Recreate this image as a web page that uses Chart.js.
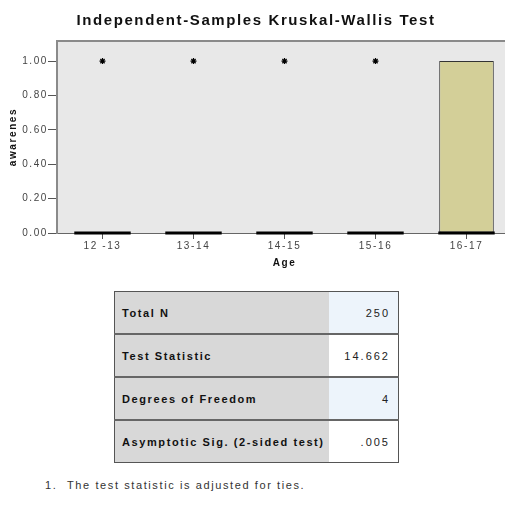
<!DOCTYPE html>
<html>
<head>
<meta charset="utf-8">
<script src="https://cdn.jsdelivr.net/npm/chart.js@4"></script>
<style>
  html, body { margin: 0; padding: 0; background: #fff; overflow: hidden; }
  body { width: 505px; height: 512px; position: relative; font-family: "Liberation Sans", Arial, sans-serif; }
  #myChart { position: absolute; left: 0; top: 0; }
  table.stats {
    position: absolute; left: 114px; top: 291px; width: 285px;
    border-collapse: collapse; border: 1px solid #555; font-size: 11px; letter-spacing: 1.6px; color: #111;
  }
  table.stats td { height: 41px; padding: 0; border-bottom: 2px solid #666; }
  table.stats tr:last-child td { border-bottom: none; }
  table.stats td.lab { width: 209px; padding-left: 7px; background: #d8d8d8; font-weight: bold; }
  table.stats td.val { width: 61px; padding-right: 8px; text-align: right; letter-spacing: 2px; color: #222; }
  table.stats tr:nth-child(odd) td.val { background: #edf4fb; }
  table.stats tr:nth-child(even) td.val { background: #fff; }
  .note { position: absolute; left: 45px; top: 479px; font-size: 11px; letter-spacing: 1.6px; color: #333; }
  .note span { display: inline-block; width: 22px; }
</style>
</head>
<body>
<canvas id="myChart" width="512" height="272"></canvas>

<table class="stats" id="stats"></table>
<div class="note"><span>1.</span>The test statistic is adjusted for ties.</div>

<script>
// chart data
const ageGroups = ["12 -13", "13-14", "14-15", "15-16", "16-17"];
const q1 = [0, 0, 0, 0, 0];
const q3 = [0, 0, 0, 0, 1];
const medians = [0, 0, 0, 0, 0];
const outliers = [1, 1, 1, 1, null];
const yTicks = [0, 0.2, 0.4, 0.6, 0.8, 1.0];

// table data
const statLabels = ["Total N", "Test Statistic", "Degrees of Freedom", "Asymptotic Sig. (2-sided test)"];
const statValues = ["250", "14.662", "4", ".005"];

let rows = "";
statLabels.forEach((l, i) => {
  rows += "<tr><td class='lab'>" + l + "</td><td class='val'>" + statValues[i] + "</td></tr>";
});
document.getElementById("stats").innerHTML = rows;

const plotBg = {
  id: "plotBg",
  beforeDraw(chart) {
    const { ctx, chartArea: a } = chart;
    ctx.letterSpacing = "1.6px";
    ctx.save();
    ctx.fillStyle = "#e8e8e8";
    ctx.fillRect(a.left, a.top, a.right - a.left, a.bottom - a.top);
    ctx.restore();
  },
  afterDraw(chart) {
    const { ctx, chartArea: a } = chart;
    ctx.save();
    ctx.strokeStyle = "#8a8a8a";
    ctx.lineWidth = 2;
    ctx.beginPath();
    ctx.moveTo(a.left - 1, a.top);
    ctx.lineTo(a.right, a.top);
    ctx.stroke();
    ctx.restore();
  }
};

let ctx = document.getElementById("myChart").getContext("2d");

new Chart(ctx, {
  data: {
    labels: ageGroups,
    datasets: [
      {
        type: "bar",
        data: q1.map((v, i) => [v, q3[i]]),
        backgroundColor: "#d3cf98",
        borderColor: "#333",
        borderWidth: 1,
        borderSkipped: false,
        barPercentage: 0.6,
        categoryPercentage: 1,
        grouped: false,
        order: 3,
      },
      {
        type: "bar",
        data: medians.map((m) => [m - 0.008, m + 0.008]),
        backgroundColor: "#000",
        borderWidth: 0,
        barPercentage: 0.62,
        categoryPercentage: 1,
        grouped: false,
        clip: false,
        order: 2,
      },
      {
        type: "line",
        data: outliers,
        showLine: false,
        pointStyle: "star",
        pointRadius: 3,
        pointBorderWidth: 1.2,
        borderColor: "#000",
        backgroundColor: "#000",
        order: 1,
      },
    ],
  },
  options: {
    responsive: false,
    animation: false,
    layout: { padding: 0, autoPadding: false },
    plugins: {
      legend: { display: false },
      tooltip: { enabled: false },
      title: {
        display: true,
        text: "Independent-Samples Kruskal-Wallis Test",
        color: "#111",
        font: { family: "Liberation Sans", size: 15, weight: "bold" },
        padding: { top: 12, bottom: 11 },
      },
    },
    scales: {
      x: {
        type: "category",
        offset: true,
        grid: { display: true, drawOnChartArea: false, tickLength: 6, tickColor: "#555", offset: false },
        border: { color: "#666", width: 1 },
        ticks: { color: "#444", padding: 1, font: { family: "Liberation Sans", size: 10 }, maxRotation: 0 },
        title: { display: true, text: "Age", color: "#111", font: { family: "Liberation Sans", size: 10, weight: "bold" }, padding: { top: 0, bottom: 3 } },
        afterFit(scale) { scale.height = 39; },
      },
      y: {
        min: 0,
        max: 1.117,
        afterBuildTicks(scale) { scale.ticks = yTicks.map((v) => ({ value: v })); },
        grid: { display: true, drawOnChartArea: false, tickLength: 9, tickColor: "#555" },
        border: { color: "#8a8a8a", width: 2 },
        ticks: { color: "#444", padding: 0, font: { family: "Liberation Sans", size: 10 }, callback: (v) => v.toFixed(2) },
        title: { display: true, text: "awarenes", color: "#111", font: { family: "Liberation Sans", size: 10, weight: "bold" }, padding: { top: 7, bottom: 0 } },
        afterFit(scale) { scale.width = 57; },
      },
    },
  },
  plugins: [plotBg],
});
</script>
</body>
</html>
